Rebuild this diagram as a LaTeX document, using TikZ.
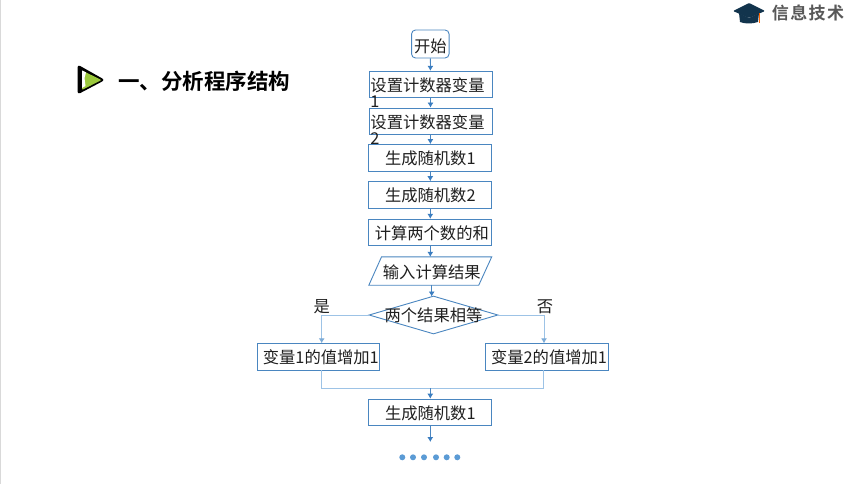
\documentclass[tikz,border=0pt]{standalone}
\usepackage{fontspec}
\setmainfont{Noto Sans CJK SC}[BoldFont={Noto Sans CJK SC Bold}]
\usetikzlibrary{arrows.meta,shapes.geometric,calc}
\definecolor{bd}{HTML}{4A86C0}
\definecolor{lite}{HTML}{9DC3E6}
\definecolor{tip}{HTML}{3A7DC0}
\definecolor{navy}{HTML}{12344D}
\definecolor{leaf}{HTML}{9BC83C}
\definecolor{dotc}{HTML}{5B9BD5}
\newcommand{\ovl}[2]{\smash{\raisebox{-16.5pt}{\rlap{#2}}}#1\hspace*{6pt}}
\newcommand{\nosize}[1]{\makebox[0pt]{\smash{#1}}}
\tikzset{
  x=1pt,y=-1pt,
  every node/.style={inner sep=0pt},
  lab/.style={font=\fontsize{16.3}{18}\selectfont,text=black!88,text height=14.9pt,text depth=1.1pt},
  boxn/.style={lab,draw=bd,line width=0.9pt,fill=white,minimum width=123pt,minimum height=26.5pt},
  flow/.style={draw=bd,line width=0.8pt,-{Latex[length=5pt,width=6pt,color=tip]}},
  branch/.style={draw=lite,line width=0.9pt},
  brancharrow/.style={branch,-{Latex[length=5pt,width=6pt,color=lite!60!bd]}}
}
\begin{document}
\begin{tikzpicture}
\useasboundingbox (0,0) rectangle (860,484);
\fill[white] (0,0) rectangle (860,484);
\fill[black!15] (0,0) rectangle (1.2,484);

% header
\fill[navy,rounded corners=1pt] (733,11) -- (749,3) -- (765,11) -- (749,18) -- cycle;
\fill[navy] (739,13) -- (749,18) -- (759,13) -- (758,22) .. controls (752,24) and (745,24) .. (740,22) -- cycle;
\fill[orange!80!red] (758.6,13) rectangle (760,23);
\node[font=\fontsize{17}{18}\bfseries\addfontfeature{LetterSpace=8},text=black!65] (hdr) at (808,13) {信息技术};

% title icon
\fill[black,rounded corners=3pt] (77.5,64.5) -- (105,80) -- (77.5,94.5) -- cycle;
\fill[leaf,rounded corners=1pt] (82,70.5) -- (101.5,80) -- (82,90) -- cycle;
\fill[white] (82,70.5) -- (86,72.5) -- (84.5,78) -- (85.5,86) -- (82,88) -- cycle;
\node[font=\fontsize{21.5}{24}\bfseries,text=black] (title) at (204,81) {一、分析程序结构};

% flow nodes
\node[boxn,rounded corners=4pt,minimum width=37.5pt,minimum height=28pt] (start) at (430.3,44) {\raisebox{-1.5pt}{开始}};
\node[boxn] (s1) at (430.5,84.5) {\ovl{设置计数器变量}{1}};
\node[boxn] (s2) at (430.5,121.3) {\ovl{设置计数器变量}{2}};
\node[boxn] (r1) at (430.3,157.8) {生成随机数1};
\node[boxn] (r2) at (430.3,194.8) {生成随机数2};
\node[boxn] (sum) at (430.3,232.5) {\hspace*{3pt}计算两个数的和};
\node[lab,minimum width=122.5pt,minimum height=28pt] (inp) at (430.3,271) {\hspace*{3pt}\raisebox{-1pt}{输入计算结果}};
\draw[bd,line width=0.9pt] (inp.south west) -- ($(inp.north west)+(12.7,0)$) -- (inp.north east) -- ($(inp.south east)+(-13,0)$) -- cycle;
\node[lab,draw=bd,line width=0.9pt,fill=white,diamond,minimum width=129pt,minimum height=38pt] (dec) at (433.5,315) {\nosize{两个结果相等}};
\node[boxn,minimum width=122pt] (lb) at (318.3,356.7) {\hspace*{5pt}变量1的值增加1};
\node[boxn,minimum width=122.5pt] (rb) at (547,356.7) {\hspace*{4pt}变量2的值增加1};
\node[boxn] (r3) at (430.3,412.3) {生成随机数1};

\node[lab] (yes) at (321.7,306) {是};
\node[lab] (no) at (545,306) {否};

\foreach \i/\x in {1/402.3,2/413,3/424,4/436,5/446.7,6/457.3}
  \node[circle,fill=dotc,minimum size=6pt] (dot\i) at (\x,457.3) {};

\coordinate (da) at (431.7,296.5);
\coordinate (lt) at (321.7,343.3);
\coordinate (rt) at (544,343.3);
\coordinate (lo) at (321.7,370);
\coordinate (ro) at (543,370);
\coordinate (m) at (430.3,388);
\coordinate (e) at (430.3,442);

% connectors
\draw[flow] (start) -- (s1);
\draw[flow] (s1) -- (s2);
\draw[flow] (s2) -- (r1);
\draw[flow] (r1) -- (r2);
\draw[flow] (r2) -- (sum);
\draw[flow] (sum) -- (inp);
\draw[flow] (da |- inp.south) -- (da);
\draw[brancharrow] (dec.west) -| (lt);
\draw[brancharrow] (dec.east) -| (rt);
\draw[branch] (lo) |- (m);
\draw[branch] (ro) |- (m);
\draw[flow] (m) -- (r3);
\draw[flow] (r3) -- (e);
\end{tikzpicture}
\end{document}
